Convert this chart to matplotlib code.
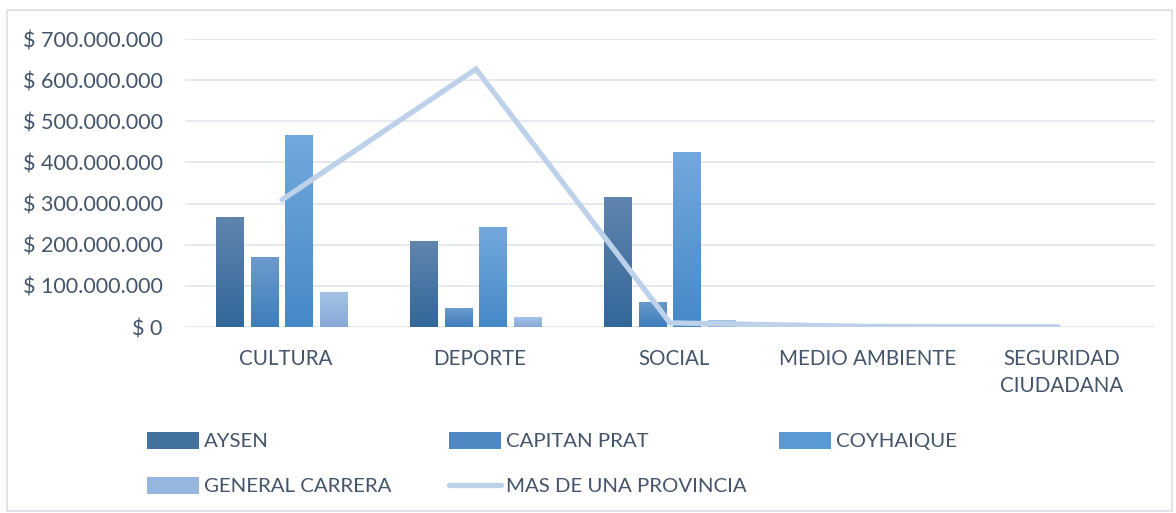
import numpy as np
import matplotlib
matplotlib.use("Agg")
import matplotlib.pyplot as plt
import matplotlib.transforms as mtransforms
from matplotlib.patches import Patch, Rectangle
from matplotlib.lines import Line2D
from matplotlib.colors import LinearSegmentedColormap

categories = ["CULTURA", "DEPORTE", "SOCIAL", "MEDIO AMBIENTE", "SEGURIDAD\nCIUDADANA"]
aysen = [267e6, 209e6, 316e6, 0, 0]
capitan_prat = [170e6, 46e6, 61e6, 0, 0]
coyhaique = [467e6, 243e6, 425e6, 0, 0]
general_carrera = [85e6, 24e6, 17e6, 0, 0]
mas_de_una = [309e6, 627e6, 10e6, 1.5e6, 0.5e6]
series_names = ["AYSEN", "CAPITAN PRAT", "COYHAIQUE", "GENERAL CARRERA", "MAS DE UNA PROVINCIA"]
yticks = [0, 100e6, 200e6, 300e6, 400e6, 500e6, 600e6, 700e6]
ytick_labels = ["$ 0", "$ 100.000.000", "$ 200.000.000", "$ 300.000.000",
                "$ 400.000.000", "$ 500.000.000", "$ 600.000.000", "$ 700.000.000"]

# gradient (top, bottom) colours per bar series
grad = [("#6085ae", "#33679a"), ("#6c9bcc", "#3e7dbd"),
        ("#73a8dd", "#4689c8"), ("#a4c3e7", "#86a8d5")]
solid = ["#44729f", "#5088c3", "#5a9ad6", "#96b6df"]
line_color = "#bdd1ea"
text_color = "#44546a"

plt.rcParams['font.family'] = ['Lato', 'DejaVu Sans']

fig = plt.figure(figsize=(11.76, 5.13), dpi=100)
ax = fig.add_axes([185/1176, 1-327/513, 970/1176, 288/513])

x = np.arange(len(categories))
bw = 0.144
step = 0.18
offsets = (np.arange(4) - 1.5) * step
bar_data = [aysen, capitan_prat, coyhaique, general_carrera]

for i, vals in enumerate(bar_data):
    bars = ax.bar(x + offsets[i], vals, width=bw, color="none", edgecolor="none", zorder=2)
    cmap = LinearSegmentedColormap.from_list("g%d" % i, [grad[i][1], grad[i][0]])
    for b in bars:
        h = b.get_height()
        if h <= 0:
            continue
        x0 = b.get_x()
        im = ax.imshow(np.linspace(0, 1, 100).reshape(-1, 1), cmap=cmap,
                       extent=[x0, x0 + b.get_width(), 0, h], origin="lower",
                       aspect="auto", zorder=2)
        im.set_clip_path(b)

ax.plot(x, mas_de_una, color=line_color, lw=3.8, solid_capstyle="round",
        solid_joinstyle="miter", zorder=3)

ax.set_xlim(-0.5, 4.5)
ax.set_ylim(0, 700e6)
ax.set_yticks(yticks)
ax.set_yticklabels(ytick_labels, fontsize=15.5)
ax.set_xticks(x)
ax.set_xticklabels(categories, linespacing=1.4, fontsize=14.8)
ax.tick_params(axis="both", length=0, labelcolor=text_color)
ax.tick_params(axis="x", pad=16)
ax.tick_params(axis="y", pad=16)
shift = mtransforms.ScaledTranslation(4/100, 0, fig.dpi_scale_trans)
for lbl in ax.get_xticklabels():
    lbl.set_transform(lbl.get_transform() + shift)
for s in ax.spines.values():
    s.set_visible(False)
ax.grid(axis="y", color="#e1e5ec", lw=1.2, zorder=0)
ax.set_axisbelow(True)

handles = [Patch(facecolor=solid[i], edgecolor="none") for i in range(4)]
handles.append(Line2D([0], [0], color=line_color, lw=3.8, solid_capstyle="round"))
# legend entries laid out in fixed-width slots, row by row
slots = [(141, 441), (443, 441), (773, 441), (141, 486), (443, 486)]
for h, name, (px, py) in zip(handles, series_names, slots):
    fig.legend([h], [name], loc="center left",
               bbox_to_anchor=(px/1176, 1-py/513), frameon=False,
               fontsize=14.7, labelcolor=text_color, handlelength=2.55,
               handleheight=0.9, handletextpad=0.25, borderpad=0, borderaxespad=0.3)

fig.patches.append(Rectangle((7/1176, 2/513), 1165/1176, 501/513, transform=fig.transFigure,
                             fill=False, edgecolor="#dadfe6", lw=1.2))

fig.savefig("out.png", dpi=100)
